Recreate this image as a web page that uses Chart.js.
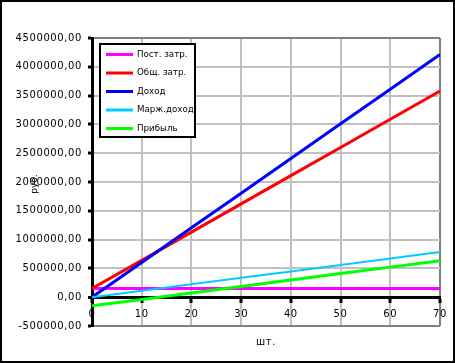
<!DOCTYPE html>
<html>
<head>
<meta charset="utf-8">
<script src="https://cdn.jsdelivr.net/npm/chart.js@4.4.1/dist/chart.umd.min.js"></script>
<style>
  body { margin: 0; background: #fff; }
</style>
</head>
<body>
<canvas id="chart" width="455" height="363"></canvas>
<script>
// values
const units = [0, 10, 20, 30, 40, 50, 60, 70];
const fixedCosts = [150000, 150000, 150000, 150000, 150000, 150000, 150000, 150000];
const totalCosts = [150000, 640000, 1130000, 1620000, 2110000, 2600000, 3090000, 3580000];
const revenue = [0, 602000, 1204000, 1806000, 2408000, 3010000, 3612000, 4214000];
const marginIncome = [0, 112000, 224000, 336000, 448000, 560000, 672000, 784000];
const profit = [-150000, -38000, 74000, 186000, 298000, 410000, 522000, 634000];

const seriesNames = ["Пост. затр.", "Общ. затр.", "Доход", "Марж.доход", "Прибыль"];
const seriesColors = ["#ff00ff", "#ff0000", "#0000ff", "#00ccff", "#00ff00"];
const seriesWidths = [3, 3, 3, 2, 3];
const seriesValues = [fixedCosts, totalCosts, revenue, marginIncome, profit];

const datasets = seriesValues.map((vals, i) => ({
  label: seriesNames[i],
  data: vals.map((v, j) => ({ x: units[j], y: v })),
  borderColor: seriesColors[i],
  backgroundColor: seriesColors[i],
  borderWidth: seriesWidths[i],
  pointRadius: 0,
  tension: 0,
  order: seriesValues.length - i // later series on top, like Excel
}));

// white page + black frame around everything
const framePlugin = {
  id: "frame",
  beforeDraw(chart) {
    const ctx = chart.ctx;
    ctx.save();
    ctx.fillStyle = "#fff";
    ctx.fillRect(0, 0, chart.width, chart.height);
    ctx.restore();
    // Excel-ish wide spacing for axis numbers
    ctx.letterSpacing = "0.6px";
  },
  afterDraw(chart) {
    const ctx = chart.ctx;
    ctx.save();
    ctx.letterSpacing = "0px";
    ctx.strokeStyle = "#000";
    ctx.lineWidth = 2;
    ctx.strokeRect(1, 1, chart.width - 2, chart.height - 2);

    // y axis title, small and vertical
    ctx.translate(35, 184);
    ctx.rotate(-Math.PI / 2);
    ctx.fillStyle = "#000";
    ctx.font = "9px 'DejaVu Sans'";
    ctx.textAlign = "center";
    ctx.textBaseline = "middle";
    ctx.fillText("руб.", 0, 0);
    ctx.restore();
  }
};

// legend box sitting inside the plot area
const boxLegend = {
  id: "boxLegend",
  afterDraw(chart) {
    const ctx = chart.ctx;
    const x = 100, y = 44, w = 95, h = 93;
    ctx.save();
    ctx.letterSpacing = "0px";
    ctx.fillStyle = "#fff";
    ctx.fillRect(x, y, w, h);
    ctx.strokeStyle = "#000";
    ctx.lineWidth = 2;
    ctx.strokeRect(x, y, w, h);
    ctx.font = "8.7px 'DejaVu Sans'";
    ctx.textBaseline = "middle";
    chart.data.datasets.forEach((ds, i) => {
      const cy = y + 10.5 + i * 18.5;
      ctx.strokeStyle = ds.borderColor;
      ctx.lineWidth = 3;
      ctx.beginPath();
      ctx.moveTo(106, cy);
      ctx.lineTo(133, cy);
      ctx.stroke();
      ctx.fillStyle = "#000";
      ctx.fillText(ds.label, 137, cy);
    });
    ctx.restore();
  }
};

const fmt = v => v.toFixed(2).replace(".", ",");

new Chart(document.getElementById("chart"), {
  type: "line",
  data: { datasets: datasets },
  plugins: [framePlugin, boxLegend],
  options: {
    responsive: false,
    animation: false,
    layout: { padding: { left: 0, top: 38, right: 15, bottom: 37 } },
    plugins: {
      legend: { display: false },
      tooltip: { enabled: false }
    },
    scales: {
      x: {
        type: "linear",
        position: { y: 0 },
        min: 0,
        max: 70,
        ticks: {
          stepSize: 10,
          color: "#000",
          padding: 7,
          maxRotation: 0,
          font: { family: "DejaVu Sans", size: 10 }
        },
        grid: {
          color: ctx => (ctx.tick && ctx.tick.value === 70 ? "#808080" : "#c0c0c0"),
          lineWidth: 2,
          tickColor: "#000",
          tickWidth: 3,
          tickLength: 4
        },
        border: { display: true, color: "#000", width: 3 },
        title: {
          display: true,
          text: "шт.",
          color: "#000",
          padding: { top: 9, bottom: 0 },
          font: { family: "DejaVu Sans", size: 10 }
        }
      },
      y: {
        min: -500000,
        max: 4500000,
        afterFit: s => { s.width = 92; },
        ticks: {
          stepSize: 500000,
          color: "#000",
          padding: 6,
          font: { family: "DejaVu Sans", size: 10 },
          callback: v => fmt(v)
        },
        grid: {
          color: ctx => {
            if (!ctx.tick) return "#c0c0c0";
            if (ctx.tick.value === 0) return "#000";
            if (ctx.tick.value === 4500000 || ctx.tick.value === -500000) return "#808080";
            return "#c0c0c0";
          },
          lineWidth: ctx => (ctx.tick && ctx.tick.value === 0 ? 3 : 2),
          tickColor: "#000",
          tickWidth: 3,
          tickLength: 4
        },
        border: { display: true, color: "#000", width: 3 }
      }
    }
  }
});
</script>
</body>
</html>
